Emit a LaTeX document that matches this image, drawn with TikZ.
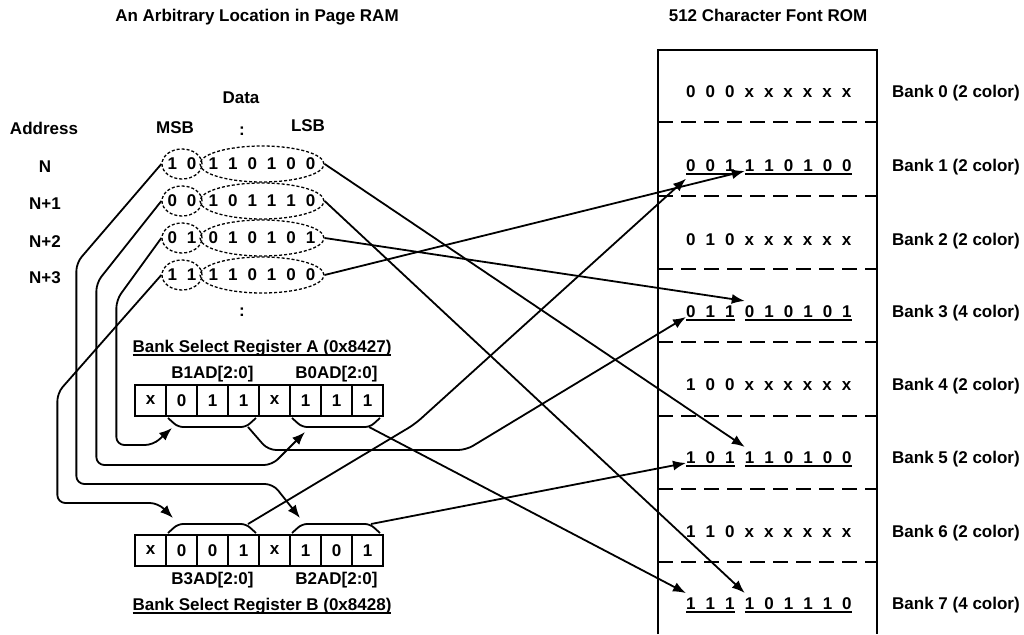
\documentclass[tikz,border=0pt]{standalone}
\usepackage{fontspec}
\setmainfont{Liberation Sans}
\usepackage{tikz}
\usetikzlibrary{shapes.geometric,arrows.meta,positioning,calc}

\newcommand{\bgap}{\hspace{10pt}}
\newcommand{\undl}[1]{\leavevmode\setbox0=\hbox{#1}\rlap{\rule[-3.5pt]{\wd0}{1.6pt}}\box0}

\begin{document}
\begin{tikzpicture}[
    x=1pt, y=-1pt,
    every node/.style={font=\fontsize{17}{20}\selectfont\bfseries, inner sep=0pt},
    cell/.style={rectangle, draw, line width=1.8pt, minimum width=31pt, minimum height=31pt, outer sep=0pt},
    ring/.style={ellipse, draw, line width=1.3pt, dash pattern=on 3pt off 2pt},
    msb/.style={ring, minimum width=40pt, minimum height=30pt},
    lsb/.style={ring, minimum width=124pt, minimum height=36pt},
    grp/.style={anchor=base west, inner xsep=0pt, inner ysep=4pt},
    banklbl/.style={anchor=base west},
    rowsep/.style={line width=1.8pt, dash pattern=on 15pt off 8pt},
    brk/.style={line width=1.8pt, rounded corners=5pt},
    arrow/.style={-{Latex[length=13pt,width=10pt]}, line width=1.8pt}
]
    \useasboundingbox (0,0) rectangle (1024,634);

    % titles
    \node[anchor=base] (ramtitle) at (257,22) {An Arbitrary Location in Page RAM};
    \node[anchor=base] (romtitle) at (768,22) {512 Character Font ROM};

    % page RAM
    \node (data) at (241,98) {Data};
    \node (addr) at (44,128) {Address};
    \node (msbhead) at (175,128) {MSB};
    \node (colon1) at (242,131) {:};
    \node (lsbhead) at (308,126) {LSB};

    \node (adr0) at (45,167) {N};
    \node (adr1) at (45,204) {N+1};
    \node (adr2) at (45,242) {N+2};
    \node (adr3) at (45,278) {N+3};

    \node[msb] (msb0) at (182,164) {\makebox[0pt]{1\bgap0}};
    \node[lsb] (lsb0) at (262,164) {\makebox[0pt]{1\bgap1\bgap0\bgap1\bgap0\bgap0}};
    \node[msb] (msb1) at (182,201) {\makebox[0pt]{0\bgap0}};
    \node[lsb] (lsb1) at (262,201) {\makebox[0pt]{1\bgap0\bgap1\bgap1\bgap1\bgap0}};
    \node[msb] (msb2) at (182,238) {\makebox[0pt]{0\bgap1}};
    \node[lsb] (lsb2) at (262,238) {\makebox[0pt]{0\bgap1\bgap0\bgap1\bgap0\bgap1}};
    \node[msb] (msb3) at (182,275) {\makebox[0pt]{1\bgap1}};
    \node[lsb] (lsb3) at (262,275) {\makebox[0pt]{1\bgap1\bgap0\bgap1\bgap0\bgap0}};

    \node (colon2) at (242,312) {:};

    % bank select register A
    \node[anchor=base] (regatitle) at (262,352) {\undl{Bank Select Register A (0x8427)}};
    \node[cell] (ra1) at (150.5,400.5) {x};
    \node[cell, right=0pt of ra1] (ra2) {0};
    \node[cell, right=0pt of ra2] (ra3) {1};
    \node[cell, right=0pt of ra3] (ra4) {1};
    \node[cell, right=0pt of ra4] (ra5) {x};
    \node[cell, right=0pt of ra5] (ra6) {1};
    \node[cell, right=0pt of ra6] (ra7) {1};
    \node[cell, right=0pt of ra7] (ra8) {1};
    \node[above=3pt of ra3] (b1adlbl) {B1AD[2:0]};
    \node[above=3pt of ra7] (b0adlbl) {B0AD[2:0]};

    % bank select register B
    \node[cell] (rb1) at (150.5,550.5) {x};
    \node[cell, right=0pt of rb1] (rb2) {0};
    \node[cell, right=0pt of rb2] (rb3) {0};
    \node[cell, right=0pt of rb3] (rb4) {1};
    \node[cell, right=0pt of rb4] (rb5) {x};
    \node[cell, right=0pt of rb5] (rb6) {1};
    \node[cell, right=0pt of rb6] (rb7) {0};
    \node[cell, right=0pt of rb7] (rb8) {1};
    \node[below=6pt of rb3] (b3adlbl) {B3AD[2:0]};
    \node[below=6pt of rb7] (b2adlbl) {B2AD[2:0]};
    \node[anchor=base] (regbtitle) at (262,610) {\undl{Bank Select Register B (0x8428)}};

    % brackets on the register fields
    \draw[brk] ($(ra2.south west)+(2,2)$) -- ++(10,9) -- ($(ra4.south east)+(-13,11)$) -- ++(10,-9);
    \draw[brk] ($(ra6.south west)+(2,2)$) -- ++(10,9) -- ($(ra8.south east)+(-13,11)$) -- ++(10,-9);
    \draw[brk] ($(rb2.north west)+(2,-2)$) -- ++(10,-9) -- ($(rb4.north east)+(-13,-11)$) -- ++(10,9);
    \draw[brk] ($(rb6.north west)+(2,-2)$) -- ++(10,-9) -- ($(rb8.north east)+(-13,-11)$) -- ++(10,9);

    \coordinate (b1ad) at ($(ra4.south east)+(-11,11)$);
    \coordinate (b0ad) at ($(ra8.south east)+(-14,11)$);
    \coordinate (b3ad) at ($(rb4.north east)+(-11,-11)$);
    \coordinate (b2ad) at ($(rb8.north east)+(-12,-11)$);
    \coordinate (b1in) at ($(ra2.south west)+(6,12)$);
    \coordinate (b0in) at ($(ra6.south west)+(15,16)$);
    \coordinate (b3in) at ($(rb2.north west)+(7,-17)$);
    \coordinate (b2in) at ($(rb6.north west)+(10,-17)$);

    % font ROM
    \draw[line width=1.8pt] (658,634) -- (658,50) -- (877,50) -- (877,634);
    \draw[rowsep] (658,122) -- (877,122);
    \draw[rowsep] (658,196) -- (877,196);
    \draw[rowsep] (658,269) -- (877,269);
    \draw[rowsep] (658,342) -- (877,342);
    \draw[rowsep] (658,416) -- (877,416);
    \draw[rowsep] (658,489) -- (877,489);
    \draw[rowsep] (658,562) -- (877,562);

    \node[grp] (bank0) at (686,97) {0\bgap0\bgap0\bgap x\bgap x\bgap x\bgap x\bgap x\bgap x};
    \node[grp] (bank1hi) at (686,171) {\undl{0\bgap0\bgap1}};
    \node[grp, right=10pt of bank1hi] (bank1lo) {\undl{1\bgap1\bgap0\bgap1\bgap0\bgap0}};
    \node[grp] (bank2) at (686,245) {0\bgap1\bgap0\bgap x\bgap x\bgap x\bgap x\bgap x\bgap x};
    \node[grp] (bank3hi) at (686,317) {\undl{0\bgap1\bgap1}};
    \node[grp, right=10pt of bank3hi] (bank3lo) {\undl{0\bgap1\bgap0\bgap1\bgap0\bgap1}};
    \node[grp] (bank4) at (686,390) {1\bgap0\bgap0\bgap x\bgap x\bgap x\bgap x\bgap x\bgap x};
    \node[grp] (bank5hi) at (686,463) {\undl{1\bgap0\bgap1}};
    \node[grp, right=10pt of bank5hi] (bank5lo) {\undl{1\bgap1\bgap0\bgap1\bgap0\bgap0}};
    \node[grp] (bank6) at (686,537) {1\bgap1\bgap0\bgap x\bgap x\bgap x\bgap x\bgap x\bgap x};
    \node[grp] (bank7hi) at (686,609) {\undl{1\bgap1\bgap1}};
    \node[grp, right=10pt of bank7hi] (bank7lo) {\undl{1\bgap0\bgap1\bgap1\bgap1\bgap0}};

    \node[banklbl] (lbl0) at (892,97) {Bank 0 (2 color)};
    \node[banklbl] (lbl1) at (892,171) {Bank 1 (2 color)};
    \node[banklbl] (lbl2) at (892,245) {Bank 2 (2 color)};
    \node[banklbl] (lbl3) at (892,317) {Bank 3 (4 color)};
    \node[banklbl] (lbl4) at (892,390) {Bank 4 (2 color)};
    \node[banklbl] (lbl5) at (892,463) {Bank 5 (2 color)};
    \node[banklbl] (lbl6) at (892,537) {Bank 6 (2 color)};
    \node[banklbl] (lbl7) at (892,609) {Bank 7 (4 color)};

    % MSB pairs into the register fields
    \draw[arrow, rounded corners=8pt] (msb0.west) -- ++(-85,99) |- ($(b2in)+(-27,-34)$) -- (b2in);
    \draw[arrow, rounded corners=8pt] (msb1.west) -- ++(-65,82) |- ($(b0in)+(-33,33)$) -- (b0in);
    \draw[arrow, rounded corners=8pt] (msb2.west) -- ++(-45,62) |- ($(b1in)+(-19,17)$) -- (b1in);
    \draw[arrow, rounded corners=8pt] (msb3.west) -- ++(-104,118) |- ($(b3in)+(-15,-15)$) -- (b3in);

    % register fields to bank bits
    \draw[arrow, rounded corners=8pt] (b1ad) -- ++(20,23) -- ++(198,0) -- (bank3hi.base west);
    \draw[arrow] (b0ad) -- (bank7hi.north west);
    \draw[arrow, rounded corners=8pt] (b3ad) -- ++(167,-100) -- (bank1hi.south west);
    \draw[arrow] (b2ad) -- (bank5hi.base west);

    % LSB bits to character bits
    \draw[arrow] (lsb0.east) -- (bank5lo.north west);
    \draw[arrow] (lsb1.east) -- (bank7lo.north west);
    \draw[arrow] (lsb2.east) -- (bank3lo.north west);
    \draw[arrow] (lsb3.east) -- (bank1lo.base west);
\end{tikzpicture}
\end{document}
